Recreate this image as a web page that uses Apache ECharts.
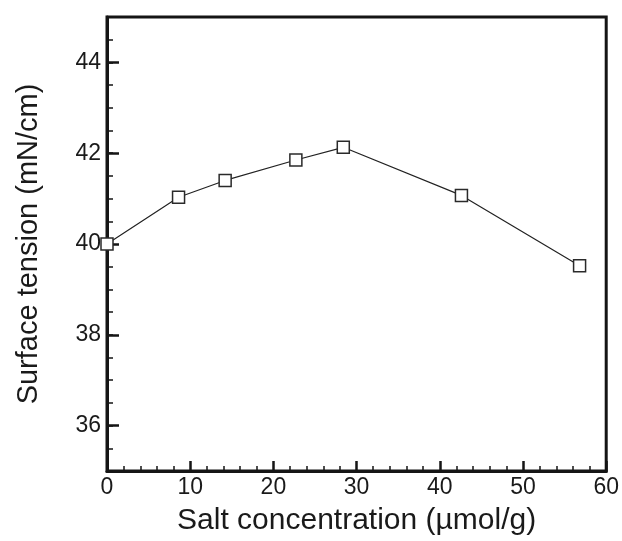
<!DOCTYPE html>
<html lang="en">

<head>
    <meta charset="UTF-8">
    <title>Surface tension vs salt concentration</title>
    <script src="https://cdn.jsdelivr.net/npm/echarts@6/dist/echarts.min.js"></script>
    <style>
        body {
            margin: 0;
            background: #fff;
        }
        #box {
            width: 622px;
            height: 541px;
        }
    </style>
</head>

<body>
    <div id="box"></div>
    <script>
        // values
        const saltConc = [0, 8.6, 14.2, 22.7, 28.4, 42.6, 56.8]
        const tension = [40.0, 41.03, 41.40, 41.85, 42.13, 41.07, 39.52]
        const yMajorTicks = [36, 38, 40, 42, 44]

        const points = saltConc.map((x, i) => [x, tension[i]])
        const fontFamily = 'Liberation Sans, Arial, sans-serif'

        var myChart = echarts.init(document.getElementById('box'))
        var option = {
            animation: false,
            grid: {
                left: 107,
                right: 14,
                top: 17,
                bottom: 68,
                show: true,
                borderColor: '#151515',
                borderWidth: 3,
                backgroundColor: 'transparent'
            },
            xAxis: {
                type: 'value',
                min: 0,
                max: 60,
                interval: 10,
                name: 'Salt concentration (\u00b5mol/g)',
                nameLocation: 'middle',
                nameGap: 35,
                nameTextStyle: { fontSize: 30, color: '#1a1a1a', fontFamily: fontFamily },
                axisLine: { lineStyle: { color: '#151515', width: 3 } },
                axisTick: { inside: true, length: 10, lineStyle: { color: '#151515', width: 2.5 } },
                minorTick: { show: true, splitNumber: 5, length: 5, lineStyle: { color: '#151515', width: 1.5 } },
                axisLabel: { fontSize: 23, color: '#1a1a1a', fontFamily: fontFamily, margin: 5 },
                splitLine: { show: false }
            },
            yAxis: [{
                // minor ticks every 0.5 and the labels
                type: 'value',
                min: 35,
                max: 45,
                interval: 0.5,
                position: 'left',
                name: 'Surface tension (mN/cm)',
                nameLocation: 'middle',
                nameGap: 64,
                nameTextStyle: { fontSize: 29, color: '#1a1a1a', fontFamily: fontFamily },
                axisLine: { lineStyle: { color: '#151515', width: 3 } },
                axisTick: { inside: true, length: 6, lineStyle: { color: '#151515', width: 1.5 } },
                axisLabel: {
                    fontSize: 23, color: '#1a1a1a', fontFamily: fontFamily, margin: 6,
                    formatter: v => (Math.abs(v % 2) < 1e-9 ? String(v) : '')
                },
                splitLine: { show: false }
            }, {
                // long ticks at the labelled values
                type: 'value',
                min: 35,
                max: 45,
                interval: 1,
                position: 'left',
                offset: 0,
                axisLine: { show: false },
                axisTick: { show: true, inside: true, length: 12, customValues: yMajorTicks, lineStyle: { color: '#151515', width: 2.5 } },
                axisLabel: { show: false },
                splitLine: { show: false }
            }],
            series: [{
                type: 'line',
                data: points,
                yAxisIndex: 0,
                symbol: 'rect',
                symbolSize: 12,
                lineStyle: { color: '#222', width: 1.2 },
                itemStyle: { color: '#fff', borderColor: '#2a2a2a', borderWidth: 1.5 }
            }]
        }
        myChart.setOption(option)
    </script>
</body>

</html>
